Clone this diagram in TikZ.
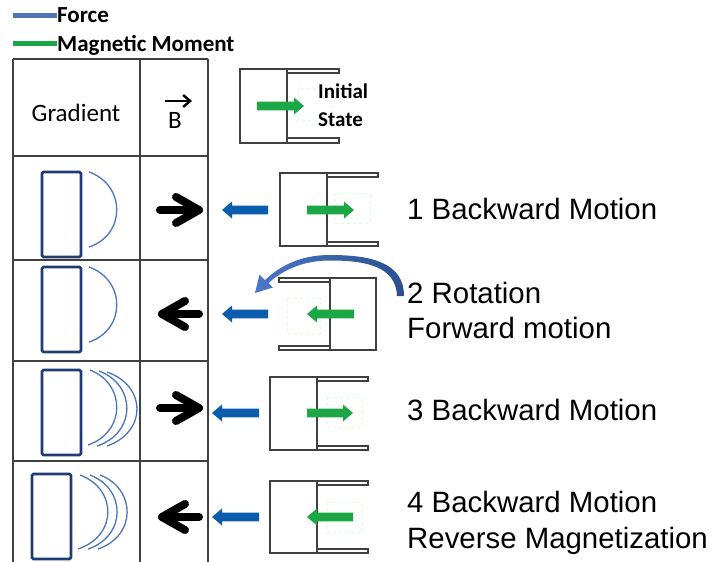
\documentclass[tikz,border=0pt]{standalone}
\usepackage{fontspec}
\setmainfont{Liberation Sans}
\newfontfamily\calib{Carlito}
\usetikzlibrary{arrows.meta}
\definecolor{forceblue}{HTML}{0B5CAD}
\definecolor{legblue}{HTML}{4F74B8}
\definecolor{momgreen}{HTML}{1BA745}
\definecolor{navy}{HTML}{1F3C74}
\definecolor{arcblue}{HTML}{4A74C0}
\definecolor{linegray}{HTML}{404040}
\definecolor{curlight}{HTML}{4A78C8}
\definecolor{curdark}{HTML}{2B4F8E}
\newcommand\myblockarrow[4]{%
  \pgfmathsetmacro\mydir{(#2>#1)?1:-1}%
  \pgfmathsetmacro\mybase{#2-\mydir*10}%
  \fill[#4] (#1,#3-4.3) -- (\mybase,#3-4.3) -- (\mybase,#3-8.5) -- (#2,#3)
     -- (\mybase,#3+8.5) -- (\mybase,#3+4.3) -- (#1,#3+4.3) -- cycle;}
\newcommand\myblackarrow[3]{%
  \pgfmathsetmacro\mydir{(#2>#1)?1:-1}%
  \pgfmathsetmacro\mytip{#2-\mydir*4}%
  \pgfmathsetmacro\myarm{#2-\mydir*27}%
  \draw[blackarr] (#1+\mydir*4,#3) -- (\mytip,#3);
  \draw[blackarr] (\myarm,#3-13) -- (\mytip,#3) -- (\myarm,#3+13);}
\begin{document}
\begin{tikzpicture}[x=1pt,y=-1pt,
  tline/.style={draw=linegray,line width=1.5},
  boxline/.style={draw=linegray,line width=1.5},
  gradrect/.style={draw=navy,line width=2.6,rounded corners=1.5},
  fieldarc/.style={draw=arcblue,line width=1.3},
  blackarr/.style={draw=black,line width=8,line cap=round,line join=round},
  faint/.style={draw=green!15,dashed,line width=0.7},
  bigtext/.style={font=\fontsize{29.4}{35}\selectfont,anchor=base west,inner sep=0},
  legtext/.style={font=\calib\bfseries\fontsize{23}{27}\selectfont,anchor=base west,inner sep=0},
  hdtext/.style={font=\calib\fontsize{25}{30}\selectfont,anchor=base,inner sep=0},
  initext/.style={font=\calib\bfseries\fontsize{21}{25}\selectfont,anchor=base west,inner sep=0}]
\useasboundingbox (0,0) rectangle (715,562);
% legend
\draw[legblue,line width=5] (13,15.5) -- (57,15.5);
\node[legtext] (lforce) at (57,23) {Force};
\draw[momgreen,line width=5] (13,43.5) -- (57,43.5);
\node[legtext] (lmom) at (57,51) {Magnetic Moment};
% table
\draw[tline] (13,59) -- (208,59);
\foreach \yy in {156,260,361,461} \draw[tline] (13,\yy) -- (208,\yy);
\foreach \xx in {13,140,208} \draw[tline] (\xx,59) -- (\xx,562);
\node[hdtext] (grad) at (76,121) {Gradient};
\node[hdtext] (bvec) at (175,128) {B};
\draw[line width=2.4,-{Straight Barb[length=7pt,width=12pt]}] (165,101) -- (192,101);
% initial state
\draw[boxline] (240,69) rectangle (287,143);
\draw[boxline] (287,69) rectangle (339,73);
\draw[boxline] (287,138) rectangle (339,143);
\draw[faint] (298,88) rectangle (332,120);
\myblockarrow{257}{304}{106}{momgreen}
\node[initext] (ini1) at (318,98) {Initial};
\node[initext] (ini2) at (318,126) {State};
% row 1
\draw[gradrect] (42,172) rectangle (81,257);
\draw[fieldarc] (89,172) .. controls (126,185) and (126,235) .. (89,247);
\myblackarrow{156}{203}{210}
\myblockarrow{268}{222}{210}{forceblue}
\draw[boxline] (280,173) rectangle (327,246);
\draw[boxline] (327,173) rectangle (378,177);
\draw[boxline] (327,242) rectangle (378,246);
\draw[faint] (335,193) rectangle (370,223);
\myblockarrow{307}{354}{210}{momgreen}
\node[bigtext] (t1) at (407,219) {1 Backward Motion};
% row 2
\draw[gradrect] (42,267) rectangle (81,352);
\draw[fieldarc] (89,267) .. controls (126,280) and (126,330) .. (89,342);
\myblackarrow{203}{158}{314}
\myblockarrow{268}{222}{314}{forceblue}
\draw[boxline] (330,278) rectangle (376,350);
\draw[boxline] (279,278) rectangle (330,282);
\draw[boxline] (279,346) rectangle (330,350);
\draw[faint] (287,298) rectangle (320,333);
\myblockarrow{354}{307}{314}{momgreen}
\shade[left color=curlight,right color=curdark]
  (404,296) .. controls (404,262) and (370,255) .. (330,255)
  .. controls (300,255) and (280,266) .. (265,280)
  -- (259.5,274.5) -- (255,293) -- (273,287.5) -- (268.5,283)
  .. controls (283,270) and (303,260.5) .. (330,260.5)
  .. controls (365,260.5) and (396,266) .. (397,296) -- cycle;
\node[bigtext] (t2a) at (407,303) {2 Rotation};
\node[bigtext] (t2b) at (407,338) {Forward motion};
% row 3
\draw[gradrect] (42,370) rectangle (81,455);
\draw[fieldarc] (90,370) .. controls (126,384) and (126,432) .. (88,445);
\draw[fieldarc] (99,371) .. controls (136.5,385) and (136.5,433) .. (97,446);
\draw[fieldarc] (107,372) .. controls (147,386) and (147,432) .. (107,446);
\myblackarrow{156}{203}{408}
\myblockarrow{259}{212}{413}{forceblue}
\draw[boxline] (270,377) rectangle (317,450);
\draw[boxline] (317,377) rectangle (368,381);
\draw[boxline] (317,446) rectangle (368,450);
\draw[faint] (327,397) rectangle (362,427);
\myblockarrow{307}{353}{413}{momgreen}
\node[bigtext] (t3) at (407,420) {3 Backward Motion};
% row 4
\draw[gradrect] (32,474) rectangle (71,559);
\draw[fieldarc] (80,475) .. controls (117.5,489) and (117.5,536) .. (78,549);
\draw[fieldarc] (90,475) .. controls (126.5,489) and (126.5,536) .. (88,549);
\draw[fieldarc] (100,475) .. controls (136.5,489) and (136.5,536) .. (98,549);
\myblackarrow{203}{158}{517}
\myblockarrow{259}{212}{517}{forceblue}
\draw[boxline] (270,481) rectangle (317,553);
\draw[boxline] (317,481) rectangle (368,485);
\draw[boxline] (317,549) rectangle (368,553);
\draw[faint] (327,502) rectangle (362,532);
\myblockarrow{353}{307}{517}{momgreen}
\node[bigtext] (t4a) at (407,512) {4 Backward Motion};
\node[bigtext] (t4b) at (407,548) {Reverse Magnetization};
\end{tikzpicture}
\end{document}
